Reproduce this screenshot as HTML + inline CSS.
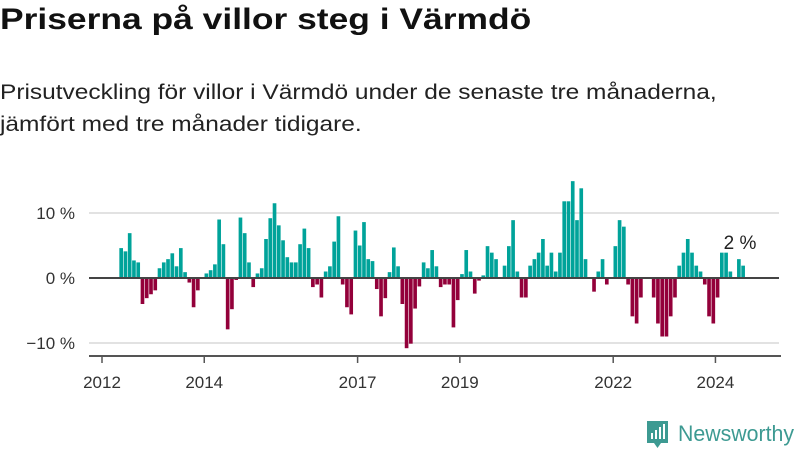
<!DOCTYPE html>
<html><head><meta charset="utf-8">
<style>
html,body{margin:0;padding:0;background:#fff;}
body{width:800px;height:450px;overflow:hidden;position:relative;font-family:"Liberation Sans","DejaVu Sans",sans-serif;color:#111;}
h1{position:absolute;left:0;top:3px;margin:0;font-size:30px;font-weight:bold;transform:scaleX(1.18);transform-origin:0 0;white-space:nowrap;}
.sub{position:absolute;left:0;top:77px;margin:0;font-size:21px;line-height:32px;color:#222;transform:scaleX(1.165);transform-origin:0 0;white-space:nowrap;}
svg{position:absolute;left:0;top:0;}
</style></head>
<body>
<h1>Priserna på villor steg i Värmdö</h1>
<p class="sub">Prisutveckling för villor i Värmdö under de senaste tre månaderna,<br>jämfört med tre månader tidigare.</p>
<svg id="chart" width="800" height="450"></svg>
<script>
const startMonth = 4; // May 2012 (months since Jan 2012)
const values = [4.6,4.1,6.9,2.7,2.4,-4.0,-3.1,-2.5,-1.9,1.5,2.4,2.9,3.8,1.8,4.6,0.9,-0.7,-4.5,-1.9,0,0.7,1.2,2.1,9.0,5.2,-7.9,-4.8,-0.3,9.3,6.9,2.4,-1.4,0.7,1.5,6.0,9.2,11.5,8.1,5.8,3.2,2.4,2.4,5.2,7.6,4.6,-1.4,-1.0,
-3.0,1.0,1.8,5.6,9.5,-1.0,-4.5,-5.6,7.3,5.0,8.6,2.9,2.6,-1.7,-5.9,-3.1,0.9,4.7,1.8,-4.0,-10.8,-10.1,-4.7,-1.3,2.4,1.5,4.3,1.8,-1.4,-1.0,-1.0,-7.6,-3.4,0.6,4.3,1.0,-2.4,-0.4,0.4,4.9,3.9,2.9,0,1.9,4.9,8.9,1.0,-3.0,-3.0,
1.9,2.9,3.9,6.0,1.9,3.9,1.0,3.9,11.8,11.8,14.9,8.9,13.8,2.9,0,-2.1,1.0,2.9,-1.0,0,4.9,8.9,7.9,-1.0,-5.9,-7.0,-3.0,0,0,-3.0,-7.0,-9.0,-9.0,-5.9,-3.0,1.9,3.9,6.0,3.9,1.9,1.0,-1.0,-5.9,-7.0,-3.0,3.9,3.9,1.0,0,2.9,1.9];
const yTicks = [10, 0, -10];
const yTickLabels = ["10 %", "0 %", "\u221210 %"];
const xTickYears = [2012, 2014, 2017, 2019, 2022, 2024];
const lastLabel = "2 %";

const NS = "http://www.w3.org/2000/svg";
const svg = document.getElementById('chart');
const X0 = 102, MW = 4.26;
function xScale(m){ return X0 + m*MW; }
function yScale(v){ return 278 - v*6.5; }
function el(tag, attrs, parent){ const e=document.createElementNS(NS,tag); for(const k in attrs) e.setAttribute(k,attrs[k]); (parent||svg).appendChild(e); return e; }

yTicks.forEach((t,i)=>{
  if(t!==0){
    const g = el('line',{x1:89,x2:779,y1:yScale(t),y2:yScale(t),stroke:'#e2e2e2','stroke-width':2});
    
    
  }
  const tx = el('text',{x:75,y:yScale(t)+6,'text-anchor':'end','font-size':17,fill:'#333','font-family':'Liberation Sans, sans-serif'});
  tx.textContent = yTickLabels[i];
  
  
});

values.forEach((v,i)=>{
  const m = startMonth + i;
  const y0 = yScale(0), y1 = yScale(v);
  const r = el('rect',{x:xScale(m)+0.3,y:Math.min(y0,y1),width:MW-0.6,height:Math.abs(y1-y0),fill:v>=0?'#00a39a':'#93003a'});
  
  
});

const zl = el('line',{x1:89,x2:779,y1:yScale(0),y2:yScale(0),stroke:'#444','stroke-width':2});



const ax = el('line',{x1:89,x2:781,y1:356,y2:356,stroke:'#555','stroke-width':2});



xTickYears.forEach(yr=>{
  const x = xScale((yr-2012)*12);
  const tk = el('line',{x1:x,x2:x,y1:356,y2:363,stroke:'#555','stroke-width':1.5});
  
  
  const tx = el('text',{x:x,y:388,'text-anchor':'middle','font-size':17,fill:'#333','font-family':'Liberation Sans, sans-serif'});
  tx.textContent = yr;
  
  
});

const lm = startMonth + values.length - 1;
const lab = el('text',{x:xScale(lm)-1,y:249,'text-anchor':'middle','font-size':19,fill:'#222','font-family':'Liberation Sans, sans-serif'});
lab.textContent = lastLabel;



// logo
const lg = el('g',{});


el('path',{d:'M647 421 h21 v22 h-7 l-3.5 5 l-3.5 -5 h-7 z',fill:'#3d9a92'},lg);
el('rect',{x:651,y:433,width:2,height:6,fill:'#fff'},lg);
el('rect',{x:655,y:430,width:2,height:9,fill:'#fff'},lg);
el('rect',{x:659,y:427,width:2,height:12,fill:'#fff'},lg);
el('rect',{x:663,y:424,width:2,height:15,fill:'#fff'},lg);
const lt = el('text',{x:678,y:441,'font-size':22,fill:'#3d9a92','font-family':'Liberation Sans, sans-serif',textLength:116,lengthAdjust:'spacingAndGlyphs'},lg);
lt.textContent = 'Newsworthy';
</script>
</body></html>
